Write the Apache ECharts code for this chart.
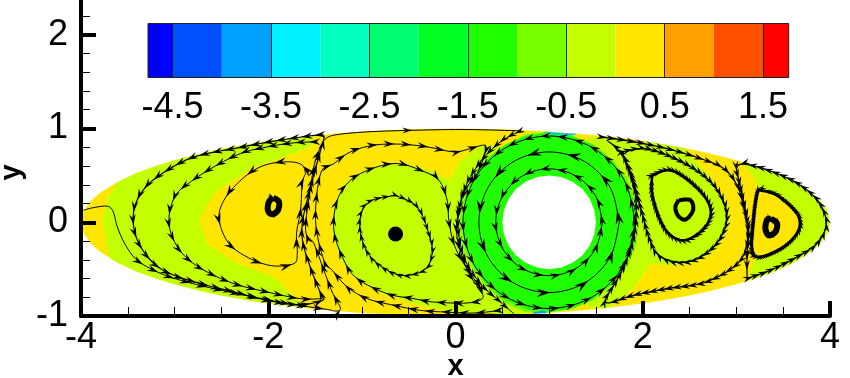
<!DOCTYPE html>
<html>
<head>
<meta charset="utf-8">
<style>html,body{margin:0;padding:0;background:#fff}#c{width:850px;height:378px}</style>
<script src="https://cdn.jsdelivr.net/npm/echarts@6/dist/echarts.min.js"></script>
</head>
<body>
<div id="c"></div>
<script>
// Colour bar
const bandLevels = [-4.75,-4.5,-4,-3.5,-3,-2.5,-2,-1.5,-1,-0.5,0,0.5,1,1.5,1.76];
const bandColors = ['#0000ff','#0050ff','#00a0ff','#00f0ff','#00ffc0','#00ff70','#00ff20','#20ff00','#78ff00','#c3ff00','#ffe600','#ffa000','#ff5000','#ff0000'];
const colorbarTicks = [-4.5,-3.5,-2.5,-1.5,-0.5,0.5,1.5];
const xTicks = [-4,-2,0,2,4];

// Contour regions [x, y]
const regionDomain = [[-4,0],[-3.97,.12],[-3.9,.222],[-3.8,.312],[-3.6,.436],[-3.4,.527],[-3.2,.6],[-3,.661],[-2.75,.726],[-2.5,.781],[-2.25,.827],[-2,.866],[-1.5,.927],[-1,.968],[-.5,.992],[0,1],[.5,.992],[1,.968],[1.5,.927],[2,.866],[2.25,.827],[2.5,.781],[2.75,.726],[3,.661],[3.2,.6],[3.4,.527],[3.6,.436],[3.8,.312],[3.9,.222],[3.97,.12],[4,0],[3.97,-.12],[3.9,-.222],[3.8,-.312],[3.6,-.436],[3.4,-.527],[3.2,-.6],[3,-.661],[2.75,-.726],[2.5,-.781],[2.25,-.827],[2,-.866],[1.5,-.927],[1,-.968],[.5,-.992],[0,-1],[-.5,-.992],[-1,-.968],[-1.5,-.927],[-2,-.866],[-2.25,-.827],[-2.5,-.781],[-2.75,-.726],[-3,-.661],[-3.2,-.6],[-3.4,-.527],[-3.6,-.436],[-3.8,-.312],[-3.9,-.222],[-3.97,-.12]];
const regionLeft = [[-3.6,.436],[-3.4,.527],[-3.2,.6],[-3,.661],[-2.75,.726],[-2.5,.781],[-2.25,.827],[-2,.866],[-1.5,.927],[-1.55,.8],[-1.726,.733],[-2.189,.573],[-2.58,.306],[-2.74,.021],[-2.651,-.228],[-2.367,-.423],[-1.94,-.584],[-1.762,-.762],[-1.584,-.915],[-2,-.866],[-2.25,-.827],[-2.5,-.781],[-2.75,-.726],[-3,-.661],[-3.2,-.6],[-3.4,-.527],[-3.68,-.392],[-3.71,-.33],[-3.77,.02],[-3.71,.27]];
const regionMiddle = [[.267,.822],[.053,.662],[-.071,.448],[-.231,.537],[-.587,.644],[-.943,.573],[-1.192,.413],[-1.299,.164],[-1.317,-.121],[-1.228,-.406],[-1.05,-.619],[-.765,-.762],[-.445,-.868],[-.125,-.94],[0,-.99],[.5,-.985],[.8,-.97],[.8,.7],[.5,.8]];
const regionRight = [[1.6,.917],[1.8,.893],[2.1,.851],[2.44,.792],[2.722,.484],[2.918,.164],[2.918,-.05],[2.776,-.299],[2.544,-.441],[2.26,-.459],[2.082,-.441],[1.94,-.655],[1.762,-.833],[1.6,-.917],[1.4,-.9],[1.4,.9]];
const regionTip = [[3.05,.645],[3.2,.6],[3.4,.527],[3.6,.436],[3.8,.312],[3.9,.222],[3.97,.12],[4,0],[3.97,-.12],[3.9,-.222],[3.8,-.312],[3.6,-.436],[3.4,-.527],[3.2,-.6],[3.114,-.628],[3.203,-.388],[3.434,-.335],[3.665,-.121],[3.683,.075],[3.434,.299],[3.221,.359],[3.221,.431]];
const regionFringe = [[1.96,0],[1.927,.25],[1.83,.48],[1.68,.66],[1.48,.81],[1.25,.915],[1,.965],[.75,.94],[.52,.82],[.32,.67],[.17,.48],[.07,.25],[.04,0],[.07,-.25],[.17,-.48],[.32,-.67],[.52,-.86],[.75,-.96],[1,-.965],[1.25,-.915],[1.48,-.81],[1.68,-.66],[1.83,-.48],[1.927,-.25]];
const regionRing = [[1.93,0],[1.898,.247],[1.805,.478],[1.658,.677],[1.465,.829],[1.24,.925],[1,.957],[.76,.925],[.535,.829],[.342,.677],[.195,.478],[.102,.247],[.07,0],[.102,-.247],[.195,-.478],[.342,-.677],[.535,-.829],[.76,-.925],[1,-.957],[1.24,-.925],[1.465,-.829],[1.658,-.677],[1.805,-.478],[1.898,-.247]];
const regionCylinder = [[1.5,0],[1.483,.129],[1.433,.25],[1.354,.354],[1.25,.433],[1.129,.483],[1,.5],[.871,.483],[.75,.433],[.646,.354],[.567,.25],[.517,.129],[.5,0],[.517,-.129],[.567,-.25],[.646,-.354],[.75,-.433],[.871,-.483],[1,-.5],[1.129,-.483],[1.25,-.433],[1.354,-.354],[1.433,-.25],[1.483,-.129]];
const accentTopCyan = [[.93,.965],[1.3,.945],[1.25,.925],[1.0,.94]];
const accentBottomBlue = [[.82,-.975],[.98,-.968],[.95,-.945],[.84,-.955]];
const accentTopOrange = [[1.566,.92],[2.02,.863],[2.0,.845],[1.6,.895]];
const accentBottomOrange = [[-.2,-.995],[.48,-.99],[.4,-.97],[-.1,-.975]];

// Streamlines [x, y], in flow direction
const streamEntry = [[-3.975,.128],[-3.861,.157],[-3.719,.171],[-3.655,.11],[-3.612,-.05],[-3.523,-.246],[-3.399,-.406],[-3.185,-.53],[-2.936,-.619],[-2.58,-.708],[-2.153,-.797],[-1.797,-.868],[-1.37,-.93],[-1.299,-.947],[-1.228,-.922],[-1.317,-.744],[-1.406,-.512],[-1.512,-.228],[-1.601,-.085],[-1.548,.377],[-1.495,.662],[-1.406,.875]];
const streamTopEdge = [[-1.406,.875],[-1.299,.929],[-.943,.964],[-.409,.982],[.125,.989],[.694,.975]];
const streamRingLeft = [[.694,.975],[.48,.858],[.267,.644],[.107,.377],[.025,.021],[.089,-.37],[.267,-.655],[.48,-.851],[.623,-.975]];
const streamLeftOuter = [[-1.423,-.797],[-1.512,-.584],[-1.619,-.263],[-1.637,-.014],[-1.548,.377],[-1.441,.769],[-1.406,.911],[-1.477,.929],[-1.762,.893],[-2.046,.847],[-2.367,.786],[-2.651,.733],[-2.865,.669],[-3.078,.555],[-3.292,.395],[-3.416,.199],[-3.441,-.014],[-3.381,-.228],[-3.221,-.441],[-3.007,-.566],[-2.722,-.655],[-2.367,-.744],[-2.011,-.833],[-1.655,-.879],[-1.423,-.833],[-1.423,-.797]];
const streamLeftSecond = [[-1.477,.858],[-1.726,.847],[-2.011,.804],[-2.295,.733],[-2.58,.591],[-2.829,.431],[-2.989,.288],[-3.06,.057],[-3.025,-.157],[-2.9,-.352],[-2.687,-.512],[-2.367,-.655],[-2.011,-.744],[-1.655,-.815],[-1.423,-.815]];
const streamLeftInner = [[-1.601,.52],[-1.637,.609],[-1.762,.644],[-1.975,.626],[-2.153,.555],[-2.331,.413],[-2.473,.235],[-2.527,.057],[-2.473,-.139],[-2.367,-.281],[-2.153,-.406],[-1.94,-.466],[-1.726,-.441],[-1.69,-.335],[-1.698,-.121],[-1.655,.128],[-1.637,.413],[-1.601,.52]];
const streamLeftCore = [[-1.947,.263],[-1.886,.217],[-1.897,.128],[-1.957,.085],[-2.004,.128],[-1.993,.217],[-1.947,.263]];
const streamMiddleSpiral = [[.48,-.94],[.196,-.968],[-.125,-.957],[-.374,-.94],[-.658,-.886],[-.943,-.815],[-1.157,-.69],[-1.317,-.512],[-1.406,-.406],[-1.495,.021],[-1.441,.52],[-1.299,.626],[-1.121,.751],[-.872,.822],[-.587,.833],[-.302,.804],[-.018,.751],[.16,.786],[.302,.822],[.32,.751],[.231,.52],[.125,.377],[.053,.199],[.011,-.121],[.125,-.512],[.267,-.726],[.285,-.815],[.125,-.861],[-.231,-.851],[-.445,-.815],[-.73,-.762],[-1.05,-.601],[-1.192,-.406],[-1.299,-.085],[-1.263,.235],[-1.121,.448],[-.89,.573],[-.623,.626],[-.374,.555],[-.178,.448],[-.089,.235],[-.071,.021],[-.018,-.228],[.089,-.441],[.285,-.726]];
const streamMiddleInner = [[-.641,.288],[-.409,.164],[-.285,-.121],[-.249,-.335],[-.338,-.512],[-.587,-.566],[-.836,-.441],[-.979,-.246],[-1.021,.021],[-.925,.217],[-.641,.288]];
const streamRingOuter = [[1.92,0],[1.797,.46],[1.46,.797],[1,.92],[.54,.797],[.203,.46],[.08,0],[.203,-.46],[.54,-.797],[1,-.92],[1.46,-.797],[1.797,-.46],[1.92,0]];
const streamRingMid = [[1.75,0],[1.65,.375],[1.375,.65],[1,.75],[.625,.65],[.35,.375],[.25,0],[.35,-.375],[.625,-.65],[1,-.75],[1.375,-.65],[1.65,-.375],[1.75,0]];
const streamRingInner = [[1.57,0],[1.494,.285],[1.285,.494],[1,.57],[.715,.494],[.506,.285],[.43,0],[.506,-.285],[.715,-.494],[1,-.57],[1.285,-.494],[1.494,-.285],[1.57,0]];
const streamRightTop = [[1.548,.911],[1.904,.858],[2.26,.786],[2.616,.68],[2.865,.573],[3.007,.395],[3.078,.164],[3.132,-.085],[3.114,-.335],[3.114,-.601]];
const streamRightLong = [[3.114,-.601],[3.363,-.512],[3.648,-.37],[3.861,-.228],[3.961,-.014],[3.879,.217],[3.683,.395],[3.434,.52],[3.149,.609],[3.007,.591],[3.043,.377],[3.114,.021],[3.114,-.228],[3.043,-.406],[2.865,-.548],[2.616,-.655],[2.26,-.708],[1.904,-.779],[1.601,-.851],[1.762,-.548],[1.904,-.157],[1.922,.306],[1.797,.698],[1.619,.875]];
const streamVortexAOuter = [[1.779,.751],[2.011,.786],[2.26,.715],[2.544,.573],[2.758,.395],[2.883,.164],[2.883,-.05],[2.758,-.263],[2.544,-.406],[2.331,-.423],[2.153,-.335],[2.064,-.157],[1.993,.093],[1.904,.413],[1.779,.751]];
const streamVortexAInner = [[2.1,.502],[2.295,.555],[2.509,.431],[2.687,.235],[2.722,.057],[2.616,-.103],[2.438,-.192],[2.278,-.121],[2.171,.057],[2.1,.306],[2.1,.502]];
const streamVortexACore = [[2.384,.235],[2.509,.235],[2.537,.128],[2.456,.028],[2.374,.075],[2.349,.164],[2.384,.235]];
const streamVortexBInner = [[3.256,.342],[3.221,.306],[3.185,.057],[3.167,-.281],[3.256,-.37],[3.505,-.263],[3.665,-.085],[3.648,.093],[3.434,.288],[3.256,.342]];
const streamVortexBCore = [[3.37,.039],[3.434,-.014],[3.416,-.103],[3.345,-.139],[3.31,-.068],[3.327,.021],[3.37,.039]];
const vortexPoint = [[-.64,-.125]];

const regionLayers = [
  [regionDomain,'#ffe600'],[regionLeft,'#c3ff00'],[regionMiddle,'#c3ff00'],[regionRight,'#c3ff00'],[regionTip,'#c3ff00'],
  [regionFringe,'#78ff00'],[regionRing,'#20ff00'],[regionCylinder,'#ffffff'],
  [accentTopCyan,'#00c8f0'],[accentBottomBlue,'#00a0ff'],[accentTopOrange,'#d88030'],[accentBottomOrange,'#e08020']
];
// stream, arrow spacing px, arrow length px, line width, distance before first arrow px
const streamLayers = [
  [streamEntry,17,11,1,95],[streamTopEdge,176,10,1,90],[streamRingLeft,9,10,1,6],
  [streamLeftOuter,13,11,1.2,8],[streamLeftSecond,14,11,1,8],[streamLeftInner,30,12,1,8],[streamLeftCore,5,6,6,0],
  [streamMiddleSpiral,17,11,1,8],[streamMiddleInner,8,9,1,4],
  [streamRingOuter,17,11,1,8],[streamRingMid,40,14,1,12],[streamRingInner,17,11,1,8],
  [streamRightTop,10,10,1.2,6],[streamRightLong,8,10,1.2,6],
  [streamVortexAOuter,7,10,1.2,4],[streamVortexAInner,4,9,2.5,3],[streamVortexACore,4,5,4,2],
  [streamVortexBInner,3,8,3,2],[streamVortexBCore,4,6,6,0]
];

function resample(px){
  const out=[];
  for(let i=0;i<px.length-1;i++){
    const p0=px[Math.max(i-1,0)],p1=px[i],p2=px[i+1],p3=px[Math.min(i+2,px.length-1)];
    for(let k=0;k<8;k++){
      const t=k/8,t2=t*t,t3=t2*t;
      out.push([0,1].map(j=>0.5*(2*p1[j]+(p2[j]-p0[j])*t+(2*p0[j]-5*p1[j]+4*p2[j]-p3[j])*t2+(3*p1[j]-p0[j]-3*p2[j]+p3[j])*t3)));
    }
  }
  out.push(px[px.length-1]);
  return out;
}
function arrowHead(p,dx,dy,len){
  const w=len*0.3,nx=-dy,ny=dx;
  const bx=p[0]-dx*len,by=p[1]-dy*len,mx=p[0]-dx*len*0.65,my=p[1]-dy*len*0.65;
  return {type:'polygon',shape:{points:[p,[bx+nx*w,by+ny*w],[mx,my],[bx-nx*w,by-ny*w]]},style:{fill:'#000'}};
}
function regionSeries(pts,color,i){
  return {type:'custom',xAxisIndex:0,yAxisIndex:0,z:2,silent:true,clip:false,data:pts,encode:{x:0,y:1},
    renderItem(params,api){
      if(params.dataIndex!==0) return null;
      return {type:'polygon',z2:i,shape:{points:pts.map(p=>api.coord(p))},style:{fill:color}};
    }};
}
function streamSeries(layer){
  const [pts,spacing,size,width,first]=layer;
  return {type:'custom',xAxisIndex:0,yAxisIndex:0,z:3,silent:true,clip:false,data:pts,encode:{x:0,y:1},
    renderItem(params,api){
      if(params.dataIndex!==0) return null;
      const path=resample(pts.map(p=>api.coord(p)));
      const children=[{type:'polyline',shape:{points:path},style:{stroke:'#000',lineWidth:width,fill:null}}];
      let next=first,run=0;
      for(let i=1;i<path.length;i++){
        const dx=path[i][0]-path[i-1][0],dy=path[i][1]-path[i-1][1],d=Math.hypot(dx,dy);
        if(d===0) continue;
        while(run+d>=next){
          const t=(next-run)/d;
          children.push(arrowHead([path[i-1][0]+dx*t,path[i-1][1]+dy*t],dx/d,dy/d,size));
          next+=spacing;
        }
        run+=d;
      }
      return {type:'group',children};
    }};
}
const bandRows = bandColors.map((c,i)=>[bandLevels[i],bandLevels[i+1],i]);
const font='"Liberation Sans", Arial, sans-serif';
const option={
  animation:false,
  backgroundColor:'#fff',
  grid:[
    {left:81,right:20,top:-59,bottom:62,outerBoundsMode:'none'},
    {left:148,width:640.7,top:23.5,height:54,outerBoundsMode:'none'}
  ],
  xAxis:[
    {gridIndex:0,type:'value',min:-4,max:4,interval:2,z:10,name:'x',nameLocation:'middle',nameGap:36,nameMoveOverlap:false,
      nameTextStyle:{fontFamily:font,fontSize:29,fontWeight:'bold',color:'#000'},
      axisLine:{onZero:false,lineStyle:{color:'#000',width:4}},
      axisTick:{show:true,inside:true,length:15,lineStyle:{color:'#000',width:4}},
      minorTick:{show:true,splitNumber:4,length:9,lineStyle:{color:'#000',width:1}},
      splitLine:{show:false},minorSplitLine:{show:false},
      axisLabel:{margin:4,fontFamily:font,fontSize:36,color:'#000',customValues:xTicks}},
    {gridIndex:1,type:'value',min:-4.75,max:1.76,z:10,
      axisLine:{show:false},
      axisTick:{show:true,inside:true,length:54,customValues:colorbarTicks,lineStyle:{color:'#222',width:1}},
      splitLine:{show:false},
      axisLabel:{margin:13,fontFamily:font,fontSize:36,color:'#000',customValues:colorbarTicks,formatter:v=>v.toFixed(1)}}
  ],
  yAxis:[
    {gridIndex:0,type:'value',min:-1,max:3,interval:1,z:10,name:'y',nameLocation:'middle',nameRotate:90,nameGap:55,nameMoveOverlap:false,
      nameTextStyle:{fontFamily:font,fontSize:29,fontWeight:'bold',color:'#000',padding:[0,88,0,0]},
      axisLine:{onZero:false,lineStyle:{color:'#000',width:4}},
      axisTick:{show:true,inside:true,length:15,lineStyle:{color:'#000',width:4}},
      minorTick:{show:true,splitNumber:5,length:9,lineStyle:{color:'#000',width:1}},
      splitLine:{show:false},minorSplitLine:{show:false},
      axisLabel:{margin:13,fontFamily:font,fontSize:36,color:'#000'}},
    {gridIndex:1,type:'value',min:0,max:1,show:false}
  ],
  series:[
    ...regionLayers.map((l,i)=>regionSeries(l[0],l[1],i)),
    ...streamLayers.map(streamSeries),
    {type:'scatter',xAxisIndex:0,yAxisIndex:0,z:4,silent:true,data:vortexPoint,symbolSize:15,itemStyle:{color:'#000',opacity:1}},
    {type:'custom',xAxisIndex:1,yAxisIndex:1,z:2,silent:true,clip:false,data:bandRows,encode:{x:[0,1]},
      renderItem(params,api){
        const a=api.coord([api.value(0),1]),b=api.coord([api.value(1),0]);
        return {type:'rect',shape:{x:a[0],y:a[1],width:b[0]-a[0],height:b[1]-a[1]},style:{fill:bandColors[api.value(2)]}};
      }},
    {type:'custom',xAxisIndex:1,yAxisIndex:1,z:3,silent:true,clip:false,data:[[bandLevels[0],bandLevels[bandLevels.length-1]]],encode:{x:[0,1]},
      renderItem(params,api){
        const a=api.coord([api.value(0),1]),b=api.coord([api.value(1),0]);
        return {type:'rect',shape:{x:a[0],y:a[1],width:b[0]-a[0],height:b[1]-a[1]},style:{fill:null,stroke:'#222',lineWidth:1}};
      }}
  ]
};
echarts.init(document.getElementById('c'),null,{renderer:'canvas'}).setOption(option);
</script>
</body>
</html>
